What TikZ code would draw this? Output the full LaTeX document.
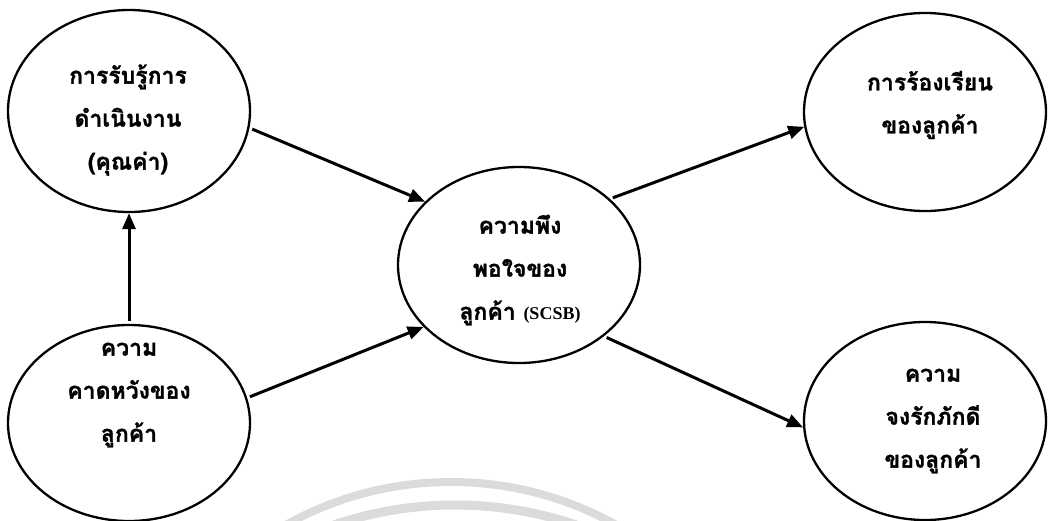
\documentclass[tikz,border=0pt]{standalone}
\usepackage{fontspec}
\newfontfamily\thaifont[Script=Thai,BoldFeatures={FakeBold=1.2}]{Loma}
\newfontfamily\latinserif{Liberation Serif}
\usetikzlibrary{shapes.geometric,arrows.meta}
\begin{document}
\begin{tikzpicture}[x=1pt,y=-1pt,
  bubble/.style={ellipse,draw,line width=2.3pt,inner sep=0pt,minimum width=242pt,minimum height=200pt},
  txt/.style={align=center,inner sep=0pt,font=\thaifont\bfseries\fontsize{23}{43}\selectfont},
  conn/.style={line width=3pt,shorten <=3pt,-{Triangle[length=16pt,width=13pt]}},
  wm/.style={draw=black!14}
]
\useasboundingbox (0,0) rectangle (1052,520);
\fill[white] (0,0) rectangle (1052,520);
% watermark arcs
\begin{scope}
  \clip (0,0) rectangle (1052,520);
  \draw[wm,line width=8pt] (451,821) circle[radius=339pt];
  \draw[wm,line width=9pt] (455,880) circle[radius=375pt];
\end{scope}
% ellipses
\node[bubble,minimum height=202pt] (TL) at (129,111) {};
\node[bubble,minimum height=196pt] (BL) at (129,423) {};
\node[bubble,minimum height=196pt] (C)  at (519,265) {};
\node[bubble,minimum height=198pt] (TR) at (925,112) {};
\node[bubble,minimum height=198pt] (BR) at (925,421) {};
% connectors
\draw[conn] (TL.-8) -- (C.146);
\draw[conn] (C.36) -- (TR.187);
\draw[conn] (C.-40) -- (BR.183);
\draw[conn] (BL.12) -- (C.213);
\draw[conn] (BL.north) -- (TL.south);
% texts
\node[txt] (tTL) at (128,120) {การรับรู้การ\\ดำเนินงาน\\(คุณค่า)};
\node[txt] (tC)  at (520,270) {ความพึง\\พอใจของ\\ลูกค้า {\latinserif\bfseries\fontsize{18}{18}\selectfont(SCSB)}};
\node[txt] (tTR) at (930,105) {การร้องเรียน\\ของลูกค้า};
\node[txt] (tBL) at (129,395) {ความ\\คาดหวังของ\\ลูกค้า};
\node[txt] (tBR) at (933,421) {ความ\\จงรักภักดี\\ของลูกค้า};
\end{tikzpicture}
\end{document}
